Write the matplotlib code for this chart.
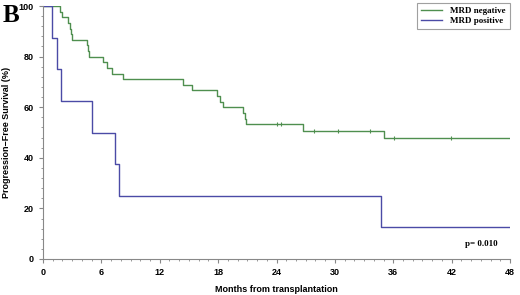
import numpy as np
import matplotlib
matplotlib.use('Agg')
import matplotlib.pyplot as plt
from matplotlib.ticker import MultipleLocator

# Kaplan-Meier step data
neg_t = [0, 1.75, 2.0, 2.6, 2.8, 2.9, 3.0, 4.5, 4.6, 4.75, 6.2, 6.6, 7.1, 8.2,
         14.4, 15.3, 17.9, 18.2, 18.5, 20.6, 20.8, 20.9, 26.75, 35.0, 48]
neg_s = [100, 97.8, 95.6, 93.3, 91.1, 88.9, 86.7, 84.4, 82.2, 80.0, 77.8, 75.6, 73.3, 71.1,
         68.9, 66.7, 64.4, 62.2, 60.0, 57.7, 55.5, 53.3, 50.6, 47.9, 47.9]
neg_cens_t = [24.1, 24.5, 27.85, 30.35, 33.6, 36.1, 41.9]
neg_cens_s = [53.3, 53.3, 50.6, 50.6, 50.6, 47.9, 47.9]

pos_t = [0, 0.9, 1.47, 1.8, 5.07, 7.4, 7.8, 34.7, 48]
pos_s = [100, 87.5, 75.0, 62.5, 50.0, 37.5, 25.0, 12.5, 12.5]

green = '#4f8f4f'
blue = '#4b4ba6'

fig = plt.figure(figsize=(5.2, 2.95), dpi=100)
ax = fig.add_axes([43/520, 36/295, 467/520, 253/295])

ax.step(neg_t, neg_s, where='post', c=green, lw=1.0, label='MRD negative')
ax.step(pos_t, pos_s, where='post', c=blue, lw=1.0, label='MRD positive')
ax.plot(neg_cens_t, neg_cens_s, '|', c=green, ms=3, mew=0.8)

ax.set_xlim(0, 48)
ax.set_ylim(0, 100)
ax.xaxis.set_major_locator(MultipleLocator(6))
ax.xaxis.set_minor_locator(MultipleLocator(1))
ax.yaxis.set_major_locator(MultipleLocator(20))
ax.yaxis.set_minor_locator(MultipleLocator(4))

for s in ['top', 'right']:
    ax.spines[s].set_visible(False)
for s in ['left', 'bottom']:
    ax.spines[s].set_color('#888888')
    ax.spines[s].set_linewidth(0.8)

ax.tick_params(which='both', direction='out', colors='#888888', labelcolor='black')
ax.tick_params(which='major', length=3, labelsize=6.5, pad=3.5)
ax.tick_params(which='minor', length=1.5)
for lab in ax.get_xticklabels() + ax.get_yticklabels():
    lab.set_fontweight('bold')
    lab.set_family('Liberation Sans')

ax.set_xlabel('Months from transplantation', fontsize=6.5, fontweight='bold',
              family='Liberation Sans', labelpad=6)
ax.set_ylabel('Progression\u2212Free Survival (%)', fontsize=6.5, fontweight='bold',
              family='Liberation Sans', labelpad=6)

leg = ax.legend(loc='upper right', bbox_to_anchor=(1.0, 1.012),
                prop={'family': 'Liberation Serif', 'size': 6.5, 'weight': 'bold'},
                frameon=True, fancybox=False, edgecolor='#888888', handlelength=2.4,
                handletextpad=0.9, borderpad=0.45, labelspacing=0.15, borderaxespad=0.0)
leg.get_frame().set_linewidth(0.8)

ax.text(0.974, 0.045, 'p= 0.010', transform=ax.transAxes, ha='right', va='bottom',
        fontsize=6.5, family='Liberation Serif', fontweight='bold')
fig.text(3/520, 1 - 4/295, 'B', fontsize=18, fontweight='bold', family='Liberation Serif',
         va='top')

plt.savefig('out.png', dpi=100)
